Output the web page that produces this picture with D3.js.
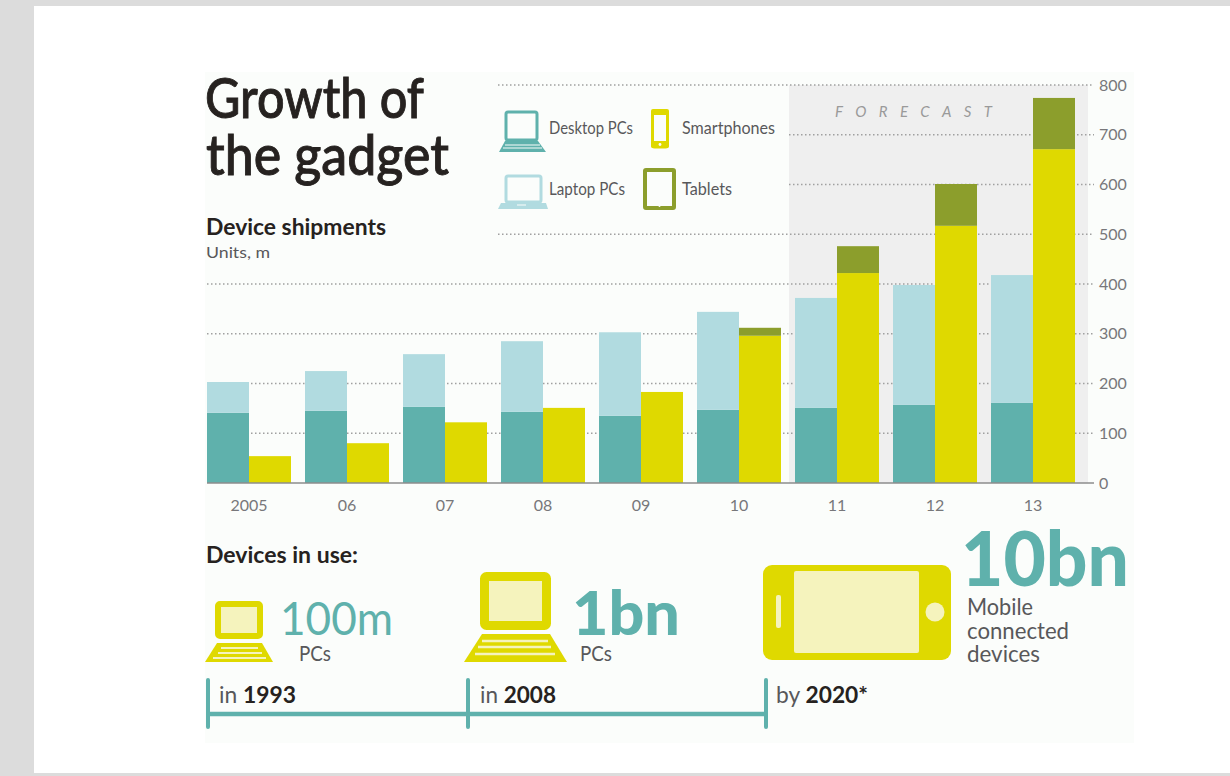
<!DOCTYPE html>
<html>
<head>
<meta charset="utf-8">
<script src="https://cdn.jsdelivr.net/npm/d3@7"></script>
<style>
html,body{margin:0;padding:0;background:#dcdcdc;overflow:hidden}
svg{display:block}
text{font-family:Lato,"Open Sans",sans-serif}
</style>
</head>
<body>
<svg id="chart" width="1230" height="776"></svg>
<script>
// Shipments in millions of units
const years = ["2005","06","07","08","09","10","11","12","13"];
const desktop = [141,145,153,143,135,147,151,157,161];
const laptop = [62,80,106,142,168,197,221,241,257];
const smartphones = [54,80,122,151,183,296,422,517,671];
const tablets = [0,0,0,0,0,16,54,84,103];
const forecastYears = ["11","12","13"];
const yTicks = [0,100,200,300,400,500,600,700,800];

const TEAL = "#5fb1ac", LIGHT = "#b1dbe0", YELLOW = "#dfd900", OLIVE = "#8c9e2c",
      CREAM = "#f5f3bd", INK = "#262220", GREY = "#58585a", TICK = "#77777a";

const svg = d3.select("#chart");

// Page, sheet and the chart's tinted panel
svg.append("rect").attr("x",34).attr("y",6).attr("width",1196).attr("height",767).attr("fill","#fff");
svg.append("rect").attr("x",205).attr("y",72).attr("width",929).attr("height",671).attr("fill","#fbfdfb");

const x = d3.scaleBand().domain(years).range([207,1075]).paddingInner(14/98).paddingOuter(0);
const y = d3.scaleLinear().domain([0,800]).range([483,85]);
const half = x.bandwidth()/2;

// Forecast shading spans the last three years
const forecastLeft = x(forecastYears[0]) - 6;
svg.append("rect")
  .attr("x", forecastLeft)
  .attr("y", y(800))
  .attr("width", 1088 - forecastLeft)
  .attr("height", y(0) - y(800))
  .attr("fill","#efefef");

// Dotted gridlines; upper ones give way to the legend block
const legendLeft = 498;
const gridStart = v => v <= 400 ? 207 : (v === 500 || v === 800) ? legendLeft : forecastLeft;
svg.append("g").selectAll("line").data(yTicks.filter(v => v > 0)).join("line")
  .attr("x1", gridStart).attr("x2", 1094)
  .attr("y1", d => y(d)).attr("y2", d => y(d))
  .attr("stroke","#a0a0a0").attr("stroke-width",1.6).attr("stroke-dasharray","1.5 2.5");

// Value axis, labels only
const yAxis = svg.append("g").attr("transform","translate(1094,0)")
  .call(d3.axisRight(y).tickValues(yTicks).tickSize(0).tickPadding(5));
yAxis.select(".domain").remove();
yAxis.selectAll("text").attr("font-size",16).attr("fill",TICK).style("font-family","Lato");

// Stacked pairs of columns
const bars = svg.append("g");
const column = (values, base, left, fill) => bars.append("g").selectAll("rect")
  .data(years.map((yr,i) => ({yr, v:values[i], b:base ? base[i] : 0})).filter(d => d.v > 0))
  .join("rect")
  .attr("x", d => x(d.yr) + left)
  .attr("width", half)
  .attr("y", d => y(d.b + d.v))
  .attr("height", d => y(d.b) - y(d.b + d.v))
  .attr("fill", fill);
column(desktop, null, 0, TEAL);
column(laptop, desktop, 0, LIGHT);
column(smartphones, null, half, YELLOW);
column(tablets, smartphones, half, OLIVE);

// Baseline and category labels
svg.append("line").attr("x1",207).attr("x2",1094).attr("y1",y(0)).attr("y2",y(0))
  .attr("stroke","#8c8c8c").attr("stroke-width",1.5);
const xAxis = svg.append("g").attr("transform","translate(0,483)")
  .call(d3.axisBottom(x).tickSize(0).tickPadding(17));
xAxis.select(".domain").remove();
xAxis.selectAll("text").attr("font-size",16).attr("fill",TICK).style("font-family","Lato");

// Text helper: width is fitted so the narrow lettering holds its measure
function label(tx, ty, str, size, fill, width, weight, extra){
  const t = svg.append("text").attr("x",tx).attr("y",ty).attr("font-size",size).attr("fill",fill)
    .attr("font-weight",weight || 400).text(str);
  if (width) t.attr("textLength",width).attr("lengthAdjust","spacingAndGlyphs");
  if (extra) extra(t);
  return t;
}
const thicken = t => t.attr("stroke",INK).attr("stroke-width",0.9);

label(205,118,"Growth of",56,INK,219,500,thicken);
label(206,175,"the gadget",56,INK,243,500,thicken);
label(206,235,"Device shipments",23,INK,180,700);
label(206,258,"Units, m",16,GREY,64);
label(835,117,"FORECAST",15,"#9a9a9a",157,400,t => t.attr("font-style","italic").attr("lengthAdjust","spacing"));

// Legend text
label(549,134,"Desktop PCs",17,GREY,84);
label(682,134,"Smartphones",17,GREY,93);
label(549,195,"Laptop PCs",17,GREY,76);
label(682,195,"Tablets",17,GREY,50);

// Laptop glyph: screen above a keyboard trapezoid with key rows
function laptopIcon(o){
  const g = svg.append("g");
  g.append("rect").attr("x",o.sx).attr("y",o.sy).attr("width",o.sw).attr("height",o.sh).attr("rx",2)
    .attr("fill",o.screen).attr("stroke",o.color).attr("stroke-width",o.stroke);
  g.append("path").attr("fill",o.color)
    .attr("d",d3.line()([[o.bx1,o.by1],[o.bx2,o.by1],[o.bx3,o.by2],[o.bx0,o.by2]])+"Z");
  o.rows.forEach(r => g.append("line")
    .attr("x1",r[0]).attr("x2",r[1]).attr("y1",r[2]).attr("y2",r[2])
    .attr("stroke",o.keys).attr("stroke-width",o.keyWidth));
}

laptopIcon({color:TEAL,screen:"#fbfdfb",keys:"#fbfdfb",keyWidth:1,stroke:3,
  sx:506,sy:112,sw:31,sh:28,bx0:499,bx1:505,bx2:538,bx3:546,by1:141,by2:152,
  rows:[[505,540,145],[503,542,148]]});
laptopIcon({color:LIGHT,screen:"#fbfdfb",keys:"#fbfdfb",keyWidth:1,stroke:3,
  sx:506,sy:176,sw:35,sh:26,bx0:498,bx1:501,bx2:546,bx3:548,by1:203,by2:209,
  rows:[[517,526,205]]});
laptopIcon({color:YELLOW,screen:CREAM,keys:CREAM,keyWidth:2,stroke:6,
  sx:218,sy:604,sw:42,sh:32,bx0:205,bx1:217,bx2:262,bx3:273,by1:643,by2:662,
  rows:[[221,258,648],[218,262,653],[213,266,658]]});
laptopIcon({color:YELLOW,screen:CREAM,keys:CREAM,keyWidth:2.5,stroke:9,
  sx:484.5,sy:576.5,sw:62,sh:49,bx0:464,bx1:482,bx2:550,bx3:567,by1:634,by2:662,
  rows:[[482,548,641],[478,551,647],[475,555,654]]});

// Handset and tablet glyphs in the legend
function outlineDevice(gx,gy,w,h,color,sw,r,marks){
  const g = svg.append("g");
  g.append("rect").attr("x",gx).attr("y",gy).attr("width",w).attr("height",h).attr("rx",r)
    .attr("fill","none").attr("stroke",color).attr("stroke-width",sw);
  marks(g);
}
outlineDevice(652.5,111,15,36,YELLOW,3,2,g => {
  g.append("rect").attr("x",651).attr("y",109).attr("width",18).attr("height",6).attr("rx",2).attr("fill",YELLOW);
  g.append("rect").attr("x",651).attr("y",141).attr("width",18).attr("height",7).attr("rx",2).attr("fill",YELLOW);
  g.append("circle").attr("cx",660).attr("cy",144.5).attr("r",1.4).attr("fill","#fbfdfb");
});
outlineDevice(645,170,29,38,OLIVE,4,1,g => {
  g.append("circle").attr("cx",659.5).attr("cy",206).attr("r",1).attr("fill","#fbfdfb");
});

// Landscape phone
svg.append("rect").attr("x",763).attr("y",565).attr("width",188).attr("height",95).attr("rx",9).attr("fill",YELLOW);
svg.append("rect").attr("x",794).attr("y",571).attr("width",125).attr("height",82).attr("rx",2).attr("fill",CREAM);
svg.append("rect").attr("x",776).attr("y",595).attr("width",5).attr("height",33).attr("rx",2).attr("fill",CREAM);
svg.append("circle").attr("cx",935).attr("cy",612).attr("r",9.5).attr("fill",CREAM);

// Devices in use
label(206,563,"Devices in use:",23,INK,152,700);
label(280,635,"100m",47,TEAL,113,400);
label(299,661,"PCs",22,GREY,32);
label(572,635,"1bn",60,TEAL,108,900);
label(580,661,"PCs",22,GREY,32);
label(961,586,"10bn",77,TEAL,168,900);
label(967,615,"Mobile",23,GREY,66);
label(967,639,"connected",23,GREY,102);
label(967,662,"devices",23,GREY,73);

// Timeline rule with milestone ticks
const stops = [208,468,766];
svg.append("line").attr("x1",stops[0]).attr("x2",stops[2]).attr("y1",714).attr("y2",714)
  .attr("stroke",TEAL).attr("stroke-width",4.5);
svg.append("g").selectAll("line").data(stops).join("line")
  .attr("x1",d=>d).attr("x2",d=>d).attr("y1",680).attr("y2",727)
  .attr("stroke",TEAL).attr("stroke-width",4).attr("stroke-linecap","round");

function milestone(tx,prefix,yr,w){
  const t = label(tx,703,"",23,GREY,w);
  t.append("tspan").text(prefix+" ");
  t.append("tspan").attr("font-weight",700).attr("fill",INK).text(yr);
}
milestone(219,"in","1993",77);
milestone(480,"in","2008",76);
milestone(776,"by","2020*",92);
</script>
</body>
</html>
